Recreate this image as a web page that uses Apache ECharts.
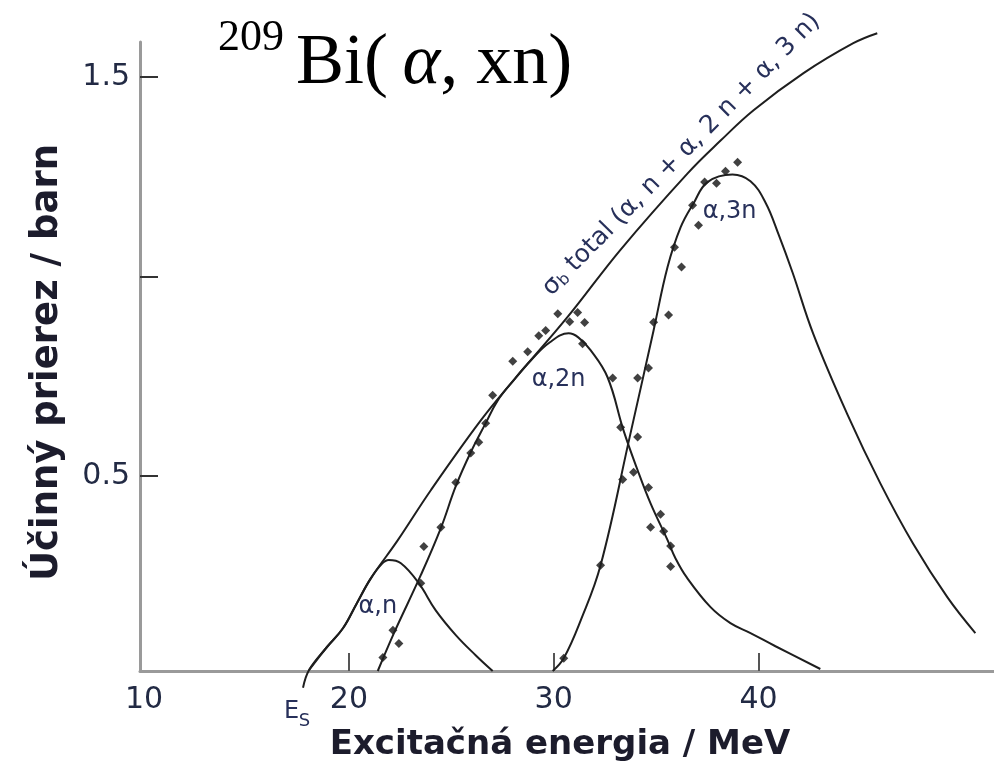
<!doctype html>
<html lang="sk">
<head>
<meta charset="utf-8">
<title>209Bi(α,xn)</title>
<script src="https://cdn.jsdelivr.net/npm/echarts@6.0.0/dist/echarts.min.js"></script>
</head>
<body style="margin:0">
<div id="main" style="width:994px;height:768px;"></div>
<script>
// axis ticks / labels
var xTicks = [20, 30, 40];
var xLabels = [10, 20, 30, 40];
var yTicks = [0.5, 1.0, 1.5];
var yLabels = [0.5, 1.5];

// fitted curves [energy MeV, cross section barn]
var totalCurve = [[17.76,-0.03],[18.05,0.014],[18.88,0.069],[19.71,0.119],[20.39,0.182],[21.07,0.244],
  [22.39,0.34],[24.0,0.465],[26.44,0.64],[28.05,0.741],[30.68,0.899],[33.27,1.068],[36.54,1.259],
  [38.15,1.341],[39.76,1.417],[42.2,1.51],[44.63,1.585],[45.8,1.61]];
var anCurve = [[18.05,0.014],[18.88,0.069],[19.71,0.119],[20.39,0.182],[21.07,0.244],[21.6,0.28],
  [21.95,0.29],[22.54,0.282],[23.41,0.232],[24.24,0.164],[25.22,0.102],[26.2,0.051],[27.02,0.012]];
var a2nCurve = [[21.41,0.012],[22.2,0.107],[23.51,0.252],[24.49,0.37],[25.22,0.475],[25.95,0.56],
  [26.68,0.633],[27.27,0.69],[28.05,0.741],[28.88,0.79],[29.8,0.835],[30.73,0.858],[31.2,0.848],
  [31.8,0.816],[32.63,0.748],[33.41,0.615],[34.1,0.515],[34.73,0.432],[35.56,0.34],[35.95,0.294],
  [36.49,0.247],[37.66,0.172],[38.63,0.132],[39.61,0.107],[40.83,0.074],[43.02,0.017]];
var a3nCurve = [[29.95,0.012],[30.49,0.044],[31.32,0.139],[32.29,0.277],[33.71,0.598],[34.88,0.866],
  [35.56,1.024],[36.2,1.124],[36.83,1.184],[37.51,1.237],[38.73,1.256],[39.61,1.239],[40.34,1.186],
  [40.98,1.106],[41.66,1.011],[42.68,0.856],[44.34,0.655],[45.95,0.482],[47.56,0.33],[49.22,0.197],
  [50.59,0.107]];

// measured points
var measured = [[21.66,0.046],[22.15,0.114],[22.44,0.081],[23.51,0.232],[23.66,0.324],[24.49,0.372],
  [25.22,0.484],[25.95,0.558],[26.34,0.585],[26.68,0.633],[27.02,0.703],[28.0,0.788],[28.73,0.812],
  [29.27,0.852],[29.61,0.865],[30.2,0.907],[30.78,0.887],[31.17,0.91],[31.51,0.885],[31.41,0.832],
  [32.88,0.746],[33.27,0.623],[33.37,0.492],[33.9,0.51],[34.1,0.598],[34.1,0.746],[34.63,0.771],
  [34.63,0.472],[34.73,0.372],[35.22,0.405],[35.37,0.362],[35.71,0.325],[35.71,0.274],[34.88,0.886],
  [35.61,0.904],[35.9,1.074],[36.24,1.024],[36.78,1.179],[37.07,1.129],[37.37,1.237],[37.95,1.234],
  [38.39,1.264],[38.98,1.287],[32.29,0.277],[30.49,0.044]];

// curve labels: [text, x, y]
var curveLabels = [['α,n', 21.41, 0.174], ['α,2n', 30.24, 0.741], ['α,3n', 38.59, 1.162]];

var inkColor = '#1e1e1e';
var labelColor = '#27305a';
var nameColor = '#1c1c2c';

var chart = echarts.init(document.getElementById('main'));

function curve(data, clip) {
  return {
    type: 'line', data: data, smooth: 0.4, symbol: 'none', clip: clip,
    lineStyle: { color: inkColor, width: 2 }, silent: true
  };
}

var option = {
  animation: false,
  backgroundColor: '#fff',
  grid: { left: 140, right: 0, top: 42, bottom: 97 },
  xAxis: {
    type: 'value', min: 9.8, max: 51.5,
    name: 'Excitačná energia / MeV', nameLocation: 'middle', nameGap: 57,
    nameTextStyle: { fontFamily: 'DejaVu Sans', fontWeight: 'bold', fontSize: 34, color: nameColor, padding: [0, 14, 0, 0] },
    axisLine: { lineStyle: { color: '#9a9a9a', width: 3 } },
    axisTick: { inside: true, length: 18, customValues: xTicks, lineStyle: { color: '#555', width: 2 } },
    axisLabel: { customValues: xLabels, margin: 14, fontFamily: 'DejaVu Sans', fontSize: 30, color: '#222a44' },
    splitLine: { show: false }
  },
  yAxis: {
    type: 'value', min: 0.012, max: 1.588,
    name: 'Účinný prierez / barn', nameLocation: 'middle', nameGap: 74,
    nameTextStyle: { fontFamily: 'DejaVu Sans', fontWeight: 'bold', fontSize: 37, color: nameColor, padding: [0, 12, 0, 0] },
    axisLine: { show: true, lineStyle: { color: '#9a9a9a', width: 3 } },
    axisTick: { show: true, inside: true, length: 18, customValues: yTicks, lineStyle: { color: '#333', width: 2 } },
    axisLabel: { customValues: yLabels, margin: 10, fontFamily: 'DejaVu Sans', fontSize: 30, color: '#222a44',
      formatter: function (v) { return v.toFixed(1); } },
    splitLine: { show: false }
  },
  series: [
    curve(totalCurve, false),
    curve(anCurve, true),
    curve(a2nCurve, true),
    curve(a3nCurve, true),
    {
      type: 'scatter', data: measured, symbol: 'diamond', symbolSize: 9,
      itemStyle: { color: '#111' }, silent: true
    }
  ]
};
chart.setOption(option);

// annotations placed through the grid's own coordinate system
var graphics = [
  { type: 'text', x: 218, y: 38, style: { text: '209', font: '44px "Liberation Serif"', fill: '#000', verticalAlign: 'middle' } },
  { type: 'text', x: 296, y: 64, style: {
      text: '{n|Bi(\u2009}{a|α}{n|, xn)}', verticalAlign: 'middle',
      rich: {
        n: { fontFamily: 'Liberation Serif', fontSize: 72, fill: '#000' },
        a: { fontFamily: 'Liberation Serif', fontStyle: 'italic', fontSize: 72, fill: '#000' }
      } } }
];
curveLabels.forEach(function (l) {
  var p = chart.convertToPixel('grid', [l[1], l[2]]);
  graphics.push({ type: 'text', x: p[0], y: p[1], style: {
    text: l[0], font: '24px "DejaVu Sans"', fill: labelColor, align: 'center', verticalAlign: 'middle' } });
});
var sp = chart.convertToPixel('grid', [29.65, 0.962]);
graphics.push({ type: 'text', x: sp[0], y: sp[1], rotation: 45.5 * Math.PI / 180, style: {
  text: '{s|σ}{b|b}{s| total (α, n + α, 2 n + α, 3 n)}', align: 'left', verticalAlign: 'middle',
  rich: {
    s: { fontFamily: 'DejaVu Sans', fontSize: 25, fill: labelColor },
    b: { fontFamily: 'DejaVu Sans', fontSize: 16, fill: labelColor, verticalAlign: 'bottom', lineHeight: 16 }
  } } });
var ep = chart.convertToPixel('grid', [17.2, -0.09]);
graphics.push({ type: 'text', x: ep[0], y: ep[1], style: {
  text: 'E', font: '24px "DejaVu Sans"', fill: labelColor, align: 'center', verticalAlign: 'middle' } });
graphics.push({ type: 'text', x: ep[0] + 13, y: ep[1] + 10, style: {
  text: 'S', font: '18px "DejaVu Sans"', fill: labelColor, align: 'center', verticalAlign: 'middle' } });
chart.setOption({ graphic: graphics });
</script>
</body>
</html>
